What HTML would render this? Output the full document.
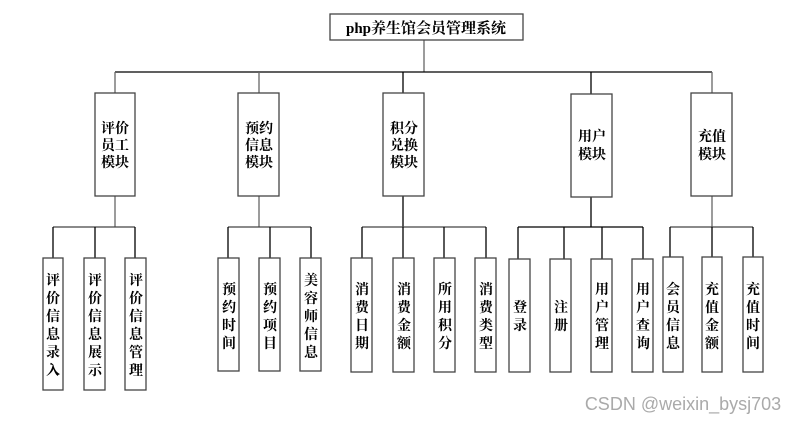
<!DOCTYPE html>
<html><head><meta charset="utf-8"><style>
html,body{margin:0;padding:0;background:#fff;}
svg text{font-family:"Liberation Serif","Noto Serif CJK SC","Noto Sans CJK SC",serif;font-weight:bold;font-size:14px;fill:#000;text-anchor:middle;}
</style></head><body>
<svg width="800" height="422" viewBox="0 0 800 422" xmlns="http://www.w3.org/2000/svg">
<g stroke="#000" stroke-width="1.3" fill="none">
<line x1="424" y1="40" x2="424" y2="72" stroke="#666"/>
<line x1="115" y1="72" x2="712" y2="72"/>
<line x1="115" y1="72" x2="115" y2="93" stroke="#666"/>
<line x1="259" y1="72" x2="259" y2="93" stroke="#666"/>
<line x1="403" y1="72" x2="403" y2="93"/>
<line x1="591" y1="72" x2="591" y2="94"/>
<line x1="712" y1="72" x2="712" y2="93" stroke="#666"/>
<line x1="115" y1="196" x2="115" y2="227" stroke="#666"/>
<line x1="259" y1="196" x2="259" y2="227" stroke="#666"/>
<line x1="403" y1="196" x2="403" y2="227"/>
<line x1="591" y1="197" x2="591" y2="227"/>
<line x1="712" y1="196" x2="712" y2="227" stroke="#666"/>
<line x1="53" y1="227" x2="135" y2="227" stroke="#444"/>
<line x1="228" y1="227" x2="311" y2="227" stroke="#444"/>
<line x1="362" y1="227" x2="486" y2="227" stroke="#444"/>
<line x1="518" y1="227" x2="643" y2="227"/>
<line x1="670" y1="227" x2="753" y2="227" stroke="#444"/>
<line x1="53" y1="227" x2="53" y2="258"/><line x1="95" y1="227" x2="95" y2="258"/><line x1="135" y1="227" x2="135" y2="258"/>
<line x1="228" y1="227" x2="228" y2="258"/><line x1="270" y1="227" x2="270" y2="258"/><line x1="311" y1="227" x2="311" y2="258"/>
<line x1="362" y1="227" x2="362" y2="258"/><line x1="403" y1="227" x2="403" y2="258"/><line x1="444" y1="227" x2="444" y2="258"/><line x1="486" y1="227" x2="486" y2="258"/>
<line x1="518" y1="227" x2="518" y2="259"/><line x1="564" y1="227" x2="564" y2="259"/><line x1="602" y1="227" x2="602" y2="259"/><line x1="643" y1="227" x2="643" y2="259"/>
<line x1="670" y1="227" x2="670" y2="257"/><line x1="712" y1="227" x2="712" y2="257"/><line x1="753" y1="227" x2="753" y2="257"/>
</g>
<g stroke="#444" stroke-width="1.3" fill="#fff">
<rect x="330" y="14" width="193" height="26"/>
<rect x="95" y="93" width="40" height="103"/>
<rect x="238" y="93" width="41" height="103"/>
<rect x="383" y="93" width="41" height="103"/>
<rect x="571" y="94" width="41" height="103"/>
<rect x="691" y="93" width="41" height="103"/>
<rect x="43" y="258" width="20" height="132"/><rect x="84" y="258" width="21" height="132"/><rect x="125" y="258" width="21" height="132"/>
<rect x="218" y="258" width="21" height="113"/><rect x="259" y="258" width="21" height="113"/><rect x="300" y="258" width="21" height="113"/>
<rect x="351" y="258" width="21" height="114"/><rect x="393" y="258" width="21" height="114"/><rect x="434" y="258" width="21" height="114"/><rect x="475" y="258" width="21" height="114"/>
<rect x="509" y="259" width="21" height="113"/><rect x="550" y="259" width="21" height="113"/><rect x="591" y="259" width="21" height="113"/><rect x="632" y="259" width="21" height="113"/>
<rect x="663" y="257" width="20" height="115"/><rect x="702" y="257" width="20" height="115"/><rect x="743" y="257" width="20" height="115"/>
</g>
<text x="426" y="33" style="font-size:15px">php养生馆会员管理系统</text>
<text x="115" y="133">评价</text><text x="115" y="150">员工</text><text x="115" y="167">模块</text>
<text x="259" y="133">预约</text><text x="259" y="150">信息</text><text x="259" y="167">模块</text>
<text x="404" y="133">积分</text><text x="404" y="150">兑换</text><text x="404" y="167">模块</text>
<text x="592" y="141">用户</text><text x="592" y="159">模块</text>
<text x="712" y="141">充值</text><text x="712" y="159">模块</text>
<g>
<text x="53" y="285">评</text><text x="53" y="303">价</text><text x="53" y="321">信</text><text x="53" y="339">息</text><text x="53" y="357">录</text><text x="53" y="375">入</text>
<text x="95" y="285">评</text><text x="95" y="303">价</text><text x="95" y="321">信</text><text x="95" y="339">息</text><text x="95" y="357">展</text><text x="95" y="375">示</text>
<text x="136" y="285">评</text><text x="136" y="303">价</text><text x="136" y="321">信</text><text x="136" y="339">息</text><text x="136" y="357">管</text><text x="136" y="375">理</text>
<text x="229" y="294">预</text><text x="229" y="312">约</text><text x="229" y="330">时</text><text x="229" y="348">间</text>
<text x="270" y="294">预</text><text x="270" y="312">约</text><text x="270" y="330">项</text><text x="270" y="348">目</text>
<text x="311" y="285">美</text><text x="311" y="303">容</text><text x="311" y="321">师</text><text x="311" y="339">信</text><text x="311" y="357">息</text>
<text x="362" y="294">消</text><text x="362" y="312">费</text><text x="362" y="330">日</text><text x="362" y="348">期</text>
<text x="404" y="294">消</text><text x="404" y="312">费</text><text x="404" y="330">金</text><text x="404" y="348">额</text>
<text x="445" y="294">所</text><text x="445" y="312">用</text><text x="445" y="330">积</text><text x="445" y="348">分</text>
<text x="486" y="294">消</text><text x="486" y="312">费</text><text x="486" y="330">类</text><text x="486" y="348">型</text>
<text x="520" y="312">登</text><text x="520" y="330">录</text>
<text x="561" y="312">注</text><text x="561" y="330">册</text>
<text x="602" y="294">用</text><text x="602" y="312">户</text><text x="602" y="330">管</text><text x="602" y="348">理</text>
<text x="643" y="294">用</text><text x="643" y="312">户</text><text x="643" y="330">查</text><text x="643" y="348">询</text>
<text x="673" y="294">会</text><text x="673" y="312">员</text><text x="673" y="330">信</text><text x="673" y="348">息</text>
<text x="712" y="294">充</text><text x="712" y="312">值</text><text x="712" y="330">金</text><text x="712" y="348">额</text>
<text x="753" y="294">充</text><text x="753" y="312">值</text><text x="753" y="330">时</text><text x="753" y="348">间</text>
</g>
<text x="683" y="410" style="font-family:'Liberation Sans',sans-serif;font-weight:normal;font-size:18px;fill:#aaa">CSDN @weixin_bysj703</text>
</svg>
</body></html>
